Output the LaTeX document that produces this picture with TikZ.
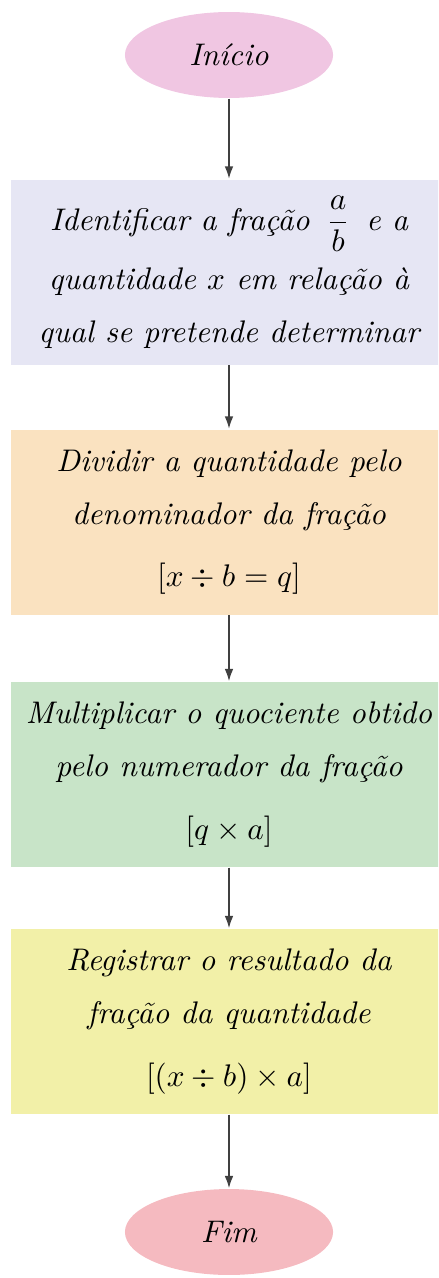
\documentclass[tikz,border=0pt]{standalone}
\usepackage{amsmath,amssymb}
\usepackage{xcolor}
\usepackage{tikz}
\usetikzlibrary{arrows.meta,shapes,positioning}
\definecolor{cinicio}{RGB}{240,198,226}
\definecolor{cfim}{RGB}{245,186,192}
\definecolor{cpasso1}{RGB}{230,230,244}
\definecolor{cpasso2}{RGB}{250,226,192}
\definecolor{cpasso3}{RGB}{200,228,200}
\definecolor{cpasso4}{RGB}{242,240,168}
\definecolor{cseta}{RGB}{64,64,64}
\tikzset{
  passo/.style={align=center,font=\itshape,inner sep=0pt,
                minimum width=139.5pt,minimum height=59.2pt},
  term/.style={ellipse,align=center,font=\itshape,inner sep=0pt,
               minimum width=66.6pt,minimum height=27.5pt},
  arr/.style={-{Latex[length=4pt,width=2.8pt]},line width=0.6pt,draw=cseta},
}
\begin{document}
\begin{tikzpicture}[x=0.32pt,y=-0.32pt]
\useasboundingbox (0,0) rectangle (438,1278);
\clip (0,0) rectangle (438,1278);

% terminals
\node[term,fill=cinicio] (inicio) at (229,55) {Início};
\node[term,fill=cfim] (fim) at (229,1232) {Fim};

% steps
\node[passo,fill=cpasso1] (identificar) at (229,272)
  {Identificar a fração\, $\dfrac{a}{b}$\, e a\\[4pt]
   quantidade $x$ em relação à\\[5pt]
   qual se pretende determinar};
\node[passo,fill=cpasso2] (dividir) at (229,522)
  {Dividir a quantidade pelo\\[5pt]
   denominador da fração\\[8pt]
   $[x \div b = q]$};
\node[passo,fill=cpasso3] (multiplicar) at (229,774.5)
  {Multiplicar o quociente obtido\\[5pt]
   pelo numerador da fração\\[8pt]
   $[q \times a]$};
\node[passo,fill=cpasso4] (registrar) at (229,1021.5)
  {Registrar o resultado da\\[5pt]
   fração da quantidade\\[8pt]
   $[(x \div b) \times a]$};

% arrows
\draw[arr] (inicio) -- (identificar);
\draw[arr] (identificar) -- (dividir);
\draw[arr] (dividir) -- (multiplicar);
\draw[arr] (multiplicar) -- (registrar);
\draw[arr] (registrar) -- (fim);

\end{tikzpicture}
\end{document}
